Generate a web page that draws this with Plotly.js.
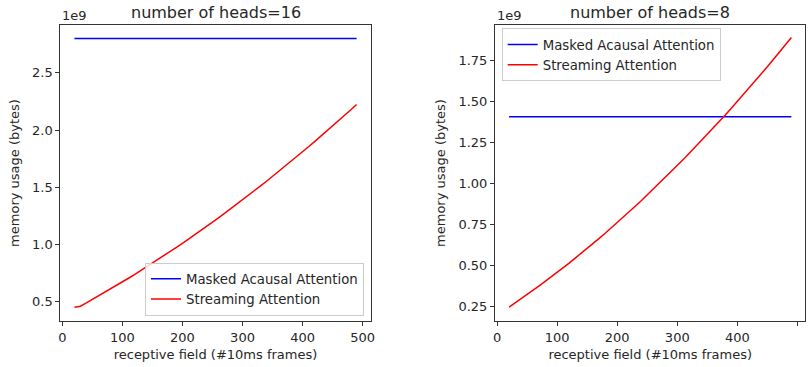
<!DOCTYPE html>
<html>
<head>
<meta charset="utf-8">
<script src="https://cdn.plot.ly/plotly-3.0.1.min.js"></script>
<style>html,body{margin:0;padding:0;background:#fff;}#chart{width:808px;height:367px;}</style>
</head>
<body>
<div id="chart"></div>
<script>
// receptive field (#10ms frames)
const receptiveField = [20,30,40,50,60,70,80,90,100,110,120,130,140,150,160,170,180,190,200,210,220,230,240,250,260,270,280,290,300,310,320,330,340,350,360,370,380,390,400,410,420,430,440,450,460,470,480,490];

// memory usage in units of 1e9 bytes, number of heads = 16
const masked16 = [2.8,2.8,2.8,2.8,2.8,2.8,2.8,2.8,2.8,2.8,2.8,2.8,2.8,2.8,2.8,2.8,2.8,2.8,2.8,2.8,2.8,2.8,2.8,2.8,2.8,2.8,2.8,2.8,2.8,2.8,2.8,2.8,2.8,2.8,2.8,2.8,2.8,2.8,2.8,2.8,2.8,2.8,2.8,2.8,2.8,2.8,2.8,2.8];
const streaming16 = [0.453,0.462,0.491,0.521,0.550,0.581,0.611,0.642,0.674,0.706,0.738,0.771,0.804,0.837,0.871,0.906,0.941,0.976,1.011,1.047,1.084,1.121,1.158,1.196,1.234,1.272,1.311,1.350,1.390,1.430,1.471,1.512,1.553,1.595,1.637,1.680,1.723,1.766,1.810,1.854,1.899,1.944,1.989,2.035,2.082,2.128,2.175,2.223];

// memory usage in units of 1e9 bytes, number of heads = 8
const masked8 = [1.405,1.405,1.405,1.405,1.405,1.405,1.405,1.405,1.405,1.405,1.405,1.405,1.405,1.405,1.405,1.405,1.405,1.405,1.405,1.405,1.405,1.405,1.405,1.405,1.405,1.405,1.405,1.405,1.405,1.405,1.405,1.405,1.405,1.405,1.405,1.405,1.405,1.405,1.405,1.405,1.405,1.405,1.405,1.405,1.405,1.405,1.405,1.405];
const streaming8 = [0.245,0.270,0.295,0.321,0.347,0.374,0.401,0.428,0.456,0.485,0.513,0.543,0.572,0.602,0.633,0.664,0.695,0.727,0.760,0.792,0.826,0.859,0.893,0.928,0.963,0.998,1.034,1.070,1.107,1.144,1.182,1.220,1.258,1.297,1.336,1.376,1.416,1.457,1.498,1.539,1.581,1.624,1.667,1.710,1.754,1.798,1.843,1.888];

const seriesNames = ["Masked Acausal Attention", "Streaming Attention"];
const subplotTitles = ["number of heads=16", "number of heads=8"];
const xTitle = "receptive field (#10ms frames)";
const yTitle = "memory usage (bytes)";
const xTicks = [0,100,200,300,400,500];
const yTicks16 = [0.5,1.0,1.5,2.0,2.5];
const yTicks8 = [0.25,0.50,0.75,1.00,1.25,1.50,1.75];

const FONT = "DejaVu Sans, sans-serif";
const TXT = "#262626";

const traces = [
  {x: receptiveField, y: masked16, name: seriesNames[0], mode: "lines", line: {color: "#0000ff", width: 1.5}, xaxis: "x", yaxis: "y", legend: "legend"},
  {x: receptiveField, y: streaming16, name: seriesNames[1], mode: "lines", line: {color: "#ff0000", width: 1.5}, xaxis: "x", yaxis: "y", legend: "legend"},
  {x: receptiveField, y: masked8, name: seriesNames[0], mode: "lines", line: {color: "#0000ff", width: 1.5}, xaxis: "x2", yaxis: "y2", legend: "legend2"},
  {x: receptiveField, y: streaming8, name: seriesNames[1], mode: "lines", line: {color: "#ff0000", width: 1.5}, xaxis: "x2", yaxis: "y2", legend: "legend2"}
];

function xAxis(domain, anchor) {
  return {
    domain: domain, anchor: anchor, range: [-3.5, 513.5],
    tickvals: xTicks, ticks: "outside", ticklen: 4, tickcolor: "#333", tickwidth: 1,
    showline: true, mirror: true, linecolor: "#333", linewidth: 1,
    showgrid: false, zeroline: false,
    tickfont: {family: FONT, size: 13, color: TXT},
    title: {text: xTitle, font: {family: FONT, size: 13, color: TXT}, standoff: 6}
  };
}
function yAxis(anchor, range, ticks, fmt) {
  return {
    domain: [0, 1], anchor: anchor, range: range,
    tickvals: ticks, tickformat: fmt, ticks: "outside", ticklen: 4, tickcolor: "#333", tickwidth: 1,
    showline: true, mirror: true, linecolor: "#333", linewidth: 1,
    showgrid: false, zeroline: false,
    tickfont: {family: FONT, size: 13, color: TXT},
    title: {text: yTitle, font: {family: FONT, size: 13, color: TXT}, standoff: 9}
  };
}

const layout = {
  width: 808, height: 367,
  margin: {l: 60, r: 2, t: 25, b: 46},
  paper_bgcolor: "#fff", plot_bgcolor: "#fff",
  font: {family: FONT, size: 13, color: TXT},
  showlegend: true,
  xaxis: xAxis([0.0004, 0.4165], "y"),
  yaxis: yAxis("x", [0.3325, 2.9175], yTicks16, ".1f"),
  xaxis2: xAxis([0.5831, 0.9993], "y2"),
  yaxis2: yAxis("x2", [0.16, 1.964], yTicks8, ".2f"),
  legend: {x: 0.4505 * 808 / 746 - 60 / 746, xref: "paper", xanchor: "right", y: 0.0185, yanchor: "bottom",
           bgcolor: "rgba(255,255,255,0.8)", bordercolor: "#cccccc", borderwidth: 1,
           font: {family: FONT, size: 13.3, color: TXT}, tracegroupgap: 0},
  legend2: {x: (501.7 - 60) / 746, xanchor: "left", y: 0.9888, yanchor: "top",
            bgcolor: "rgba(255,255,255,0.8)", bordercolor: "#cccccc", borderwidth: 1,
            font: {family: FONT, size: 13.3, color: TXT}, tracegroupgap: 0},
  annotations: [
    {text: subplotTitles[0], xref: "x domain", yref: "paper", x: 0.5, y: 1, yshift: 13, xanchor: "center", yanchor: "middle", showarrow: false, font: {family: FONT, size: 16, color: TXT}},
    {text: subplotTitles[1], xref: "x2 domain", yref: "paper", x: 0.5, y: 1, yshift: 13, xanchor: "center", yanchor: "middle", showarrow: false, font: {family: FONT, size: 16, color: TXT}},
    {text: "1e9", xref: "x domain", yref: "paper", x: 0, y: 1, yshift: 10, xanchor: "left", yanchor: "middle", showarrow: false, font: {family: FONT, size: 13, color: TXT}},
    {text: "1e9", xref: "x2 domain", yref: "paper", x: 0, y: 1, yshift: 10, xanchor: "left", yanchor: "middle", showarrow: false, font: {family: FONT, size: 13, color: TXT}}
  ]
};

Plotly.newPlot("chart", traces, layout, {staticPlot: true, displayModeBar: false});
</script>
</body>
</html>
